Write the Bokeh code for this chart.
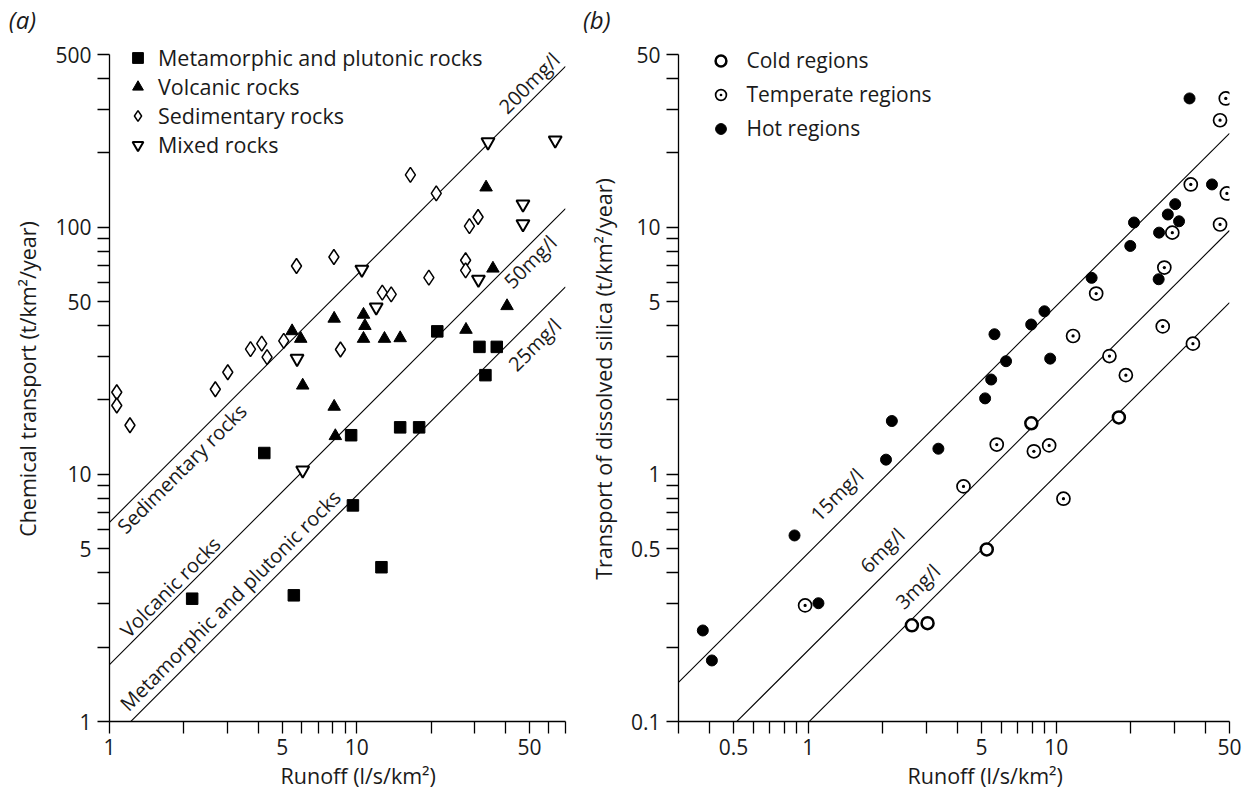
import math
from bokeh.plotting import figure
from bokeh.models import (FixedTicker, Legend, LegendItem, Title, Range1d, NumeralTickFormatter)
from bokeh.layouts import row
from bokeh.embed import file_html
from bokeh.resources import INLINE
from bokeh.core.properties import value

FONT = "Open Sans"
INK = "#1a1a1a"

# ---------------- Panel (a) data ----------------
meta_x = [2.16, 4.23, 5.57, 9.5, 9.66, 12.6, 15.0, 17.9, 21.2, 31.4, 33.2, 36.9]
meta_y = [3.14, 12.2, 3.24, 14.4, 7.49, 4.21, 15.5, 15.5, 37.9, 32.8, 25.2, 32.8]

volc_x = [5.48, 5.94, 6.05, 8.11, 8.11, 8.2, 10.66, 10.8, 10.66, 12.96, 15.0, 27.7, 33.4, 35.6, 40.6]
volc_y = [38.0, 35.4, 22.9, 42.7, 18.8, 14.3, 44.3, 39.9, 35.4, 35.4, 35.6, 38.5, 145, 68.1, 48.0]

sed_x = [1.07, 1.07, 1.21, 2.68, 3.01, 3.72, 4.13, 4.34, 5.07, 5.71, 8.09, 8.6,
         12.7, 13.8, 16.5, 19.6, 21.0, 27.6, 27.6, 28.6, 31.0]
sed_y = [21.5, 19.0, 15.8, 22.1, 25.9, 32.1, 33.8, 29.8, 34.7, 69.7, 75.8, 32.0,
         54.4, 53.5, 163, 62.5, 137, 73.5, 66.9, 101, 110]

mix_x = [5.74, 6.05, 10.5, 12.0, 31.1, 34.0, 47.1, 47.1, 63.6]
mix_y = [29.4, 10.4, 67.4, 47.5, 61.4, 221, 124, 103, 225]

# constant-concentration lines (transport at runoff = 1)
conc_a_labels = ["200mg/l", "50mg/l", "25mg/l"]
conc_a_coef = [6.4, 1.7, 0.82]
runoff_a_ends = [1, 70]
conc_a_label_x = [49.9, 50.4, 52.5]
conc_a_label_y = [383, 72.5, 33.5]

rock_labels = ["Sedimentary rocks", "Volcanic rocks", "Metamorphic and plutonic rocks"]
rock_label_x = [1.962, 1.761, 3.08]
rock_label_y = [10.55, 3.50, 3.09]

a_xticks = [1, 5, 10, 50]
a_xminor = [2, 3, 4, 6, 7, 8, 9, 20, 30, 40, 60, 70]
a_yticks = [1, 5, 10, 50, 100, 500]
a_yminor = [2, 3, 4, 6, 7, 8, 9, 20, 30, 40, 60, 70, 80, 90, 200, 300, 400]

# ---------------- Panel (b) data ----------------
hot_x = [0.376, 0.409, 0.881, 1.10, 2.06, 2.175, 3.35, 5.17, 5.47, 5.64, 6.28, 7.93,
         8.97, 9.46, 13.9, 19.9, 20.6, 25.9, 26.0, 28.2, 30.2, 31.3, 34.5, 42.5]
hot_y = [0.2335, 0.1766, 0.566, 0.301, 1.147, 1.644, 1.27, 2.03, 2.42, 3.69, 2.87, 4.04,
         4.57, 2.94, 6.24, 8.40, 10.45, 6.16, 9.51, 11.26, 12.4, 10.57, 33.2, 14.9]

temp_x = [0.972, 4.23, 5.76, 8.13, 9.37, 10.7, 11.7, 14.5, 16.4, 19.1, 26.9, 27.3,
          29.4, 34.9, 35.6, 45.8, 45.8, 48.3, 48.8]
temp_y = [0.295, 0.894, 1.32, 1.24, 1.31, 0.797, 3.63, 5.39, 3.01, 2.52, 3.97, 6.87,
          9.51, 14.9, 3.38, 27.1, 10.26, 33.2, 13.7]

cold_x = [2.62, 3.03, 5.25, 7.94, 17.9]
cold_y = [0.245, 0.25, 0.497, 1.61, 1.70]

conc_b_labels = ["15mg/l", "6mg/l", "3mg/l"]
conc_b_coef = [0.48, 0.194, 0.099]
runoff_b_ends = [0.3, 50]
conc_b_label_x = [1.305, 1.988, 2.764]
conc_b_label_y = [0.828, 0.492, 0.352]

b_xticks = [0.5, 1, 5, 10, 50]
b_xminor = [0.3, 0.4, 0.6, 0.7, 0.8, 0.9, 2, 3, 4, 6, 7, 8, 9, 20, 30, 40]
b_yticks = [0.1, 0.5, 1, 5, 10, 50]
b_yminor = [0.2, 0.3, 0.4, 0.6, 0.7, 0.8, 0.9, 2, 3, 4, 6, 7, 8, 9, 20, 30, 40]

x_title = "Runoff (l/s/km\u00b2)"
a_ytitle = "Chemical transport (t/km\u00b2/year)"
b_ytitle = "Transport of dissolved silica (t/km\u00b2/year)"

# ---------------- layout geometry ----------------
H = 800
TOP = 36          # frame top
BOTTOM = 79       # space under the frame
AXIS_TOP_PX = 54  # where the top axis value sits
frame_h = H - TOP - BOTTOM
axis_h = frame_h - (AXIS_TOP_PX - TOP)


def top_of_range(lo, hi):
    dec = math.log10(hi / lo)
    return lo * 10 ** (dec * frame_h / axis_h)


def make_fig(width, xr, yr, bl, br, xt, xm, yt, ym, ytitle, tag, tag_offset, xt_offset):
    p = figure(width=width, height=H, x_axis_type="log", y_axis_type="log",
               x_range=Range1d(*xr), y_range=Range1d(yr[0], top_of_range(*yr)),
               output_backend="svg", toolbar_location=None,
               min_border_left=bl, min_border_right=br,
               min_border_top=TOP, min_border_bottom=BOTTOM)
    p.outline_line_color = None
    p.grid.visible = False
    p.background_fill_color = "white"
    p.border_fill_color = "white"
    p.xaxis.ticker = FixedTicker(ticks=xt, minor_ticks=xm)
    p.yaxis.ticker = FixedTicker(ticks=yt, minor_ticks=ym)
    p.yaxis.bounds = (yr[0], yr[1])
    for ax in (p.xaxis[0], p.yaxis[0]):
        ax.formatter = NumeralTickFormatter(format="0.[0]")
        ax.axis_line_color = "black"
        ax.axis_line_width = 1.3
        ax.major_tick_line_color = "black"
        ax.minor_tick_line_color = "black"
        ax.major_tick_line_width = 1.3
        ax.minor_tick_line_width = 1.3
        ax.major_tick_in = 0
        ax.major_tick_out = 12
        ax.minor_tick_in = 0
        ax.minor_tick_out = 12
        ax.major_label_text_font = FONT
        ax.major_label_text_font_size = "21px"
        ax.major_label_text_color = INK
    p.xaxis.major_label_standoff = 5
    p.yaxis.major_label_standoff = 6
    p.yaxis.axis_label = ytitle
    p.yaxis.axis_label_text_font = FONT
    p.yaxis.axis_label_text_font_size = "21.5px"
    p.yaxis.axis_label_text_font_style = "normal"
    p.yaxis.axis_label_text_color = INK
    p.yaxis.axis_label_standoff = 10

    p.add_layout(Title(text=tag, align="left", offset=tag_offset, standoff=0,
                       vertical_align="middle", text_font=FONT, text_font_size="24px",
                       text_font_style="italic", text_color=INK), "above")
    p.add_layout(Title(text=x_title, align="left", offset=xt_offset, standoff=6,
                       vertical_align="top", text_font=FONT, text_font_size="21.5px",
                       text_font_style="normal", text_color=INK), "below")
    return p


def rotated(p, xs, ys, texts):
    p.text(x=xs, y=ys, text=texts, angle=45, angle_units="deg",
           text_align="center", text_baseline="middle", text_font=value(FONT),
           text_font_size="20px", text_color=INK)


# ---------------- panel (a) ----------------
pa = make_fig(578, (1, 70), (1, 500), 109, 13, a_xticks, a_xminor, a_yticks, a_yminor,
              a_ytitle, "(a)", -100.7, 171)

for k in conc_a_coef:
    pa.line(runoff_a_ends, [k * v for v in runoff_a_ends], line_color="black", line_width=1.1)

r_meta = pa.scatter(meta_x, meta_y, marker="square", size=11.5, fill_color="black", line_color="black")
r_volc = pa.scatter(volc_x, volc_y, marker="triangle", size=12.5, fill_color="black", line_color="black")
r_sed = pa.scatter(sed_x, sed_y, marker="diamond", size=15, fill_color="white",
                   line_color="black", line_width=1.5)
r_mix = pa.scatter(mix_x, mix_y, marker="inverted_triangle", size=13, fill_color="white",
                   line_color="black", line_width=2.0)

rotated(pa, conc_a_label_x, conc_a_label_y, conc_a_labels)
rotated(pa, rock_label_x, rock_label_y, rock_labels)

leg_a = Legend(items=[LegendItem(label="Metamorphic and plutonic rocks", renderers=[r_meta]),
                      LegendItem(label="Volcanic rocks", renderers=[r_volc]),
                      LegendItem(label="Sedimentary rocks", renderers=[r_sed]),
                      LegendItem(label="Mixed rocks", renderers=[r_mix])],
               location=(15, 562.5), orientation="vertical",
               glyph_width=27, glyph_height=27, spacing=-1, padding=0, margin=0,
               label_standoff=7, label_height=20,
               label_text_font=FONT, label_text_font_size="21.5px", label_text_color=INK,
               border_line_color=None, background_fill_alpha=0)
pa.add_layout(leg_a)

# ---------------- panel (b) ----------------
pb = make_fig(666, (0.3, 50), (0.1, 50), 100, 15, b_xticks, b_xminor, b_yticks, b_yminor,
              b_ytitle, "(b)", -95.5, 229)

for k in conc_b_coef:
    pb.line(runoff_b_ends, [k * v for v in runoff_b_ends], line_color="black", line_width=1.1)

r_cold = pb.scatter(cold_x, cold_y, marker="circle", size=12, fill_color="white",
                    line_color="black", line_width=2.5)
r_temp = pb.scatter(temp_x, temp_y, marker="circle_dot", size=13, fill_color="white",
                    line_color="black", line_width=1.7)
r_hot = pb.scatter(hot_x, hot_y, marker="circle", size=11, fill_color="black", line_color="black")

rotated(pb, conc_b_label_x, conc_b_label_y, conc_b_labels)

leg_b = Legend(items=[LegendItem(label="Cold regions", renderers=[r_cold]),
                      LegendItem(label="Temperate regions", renderers=[r_temp]),
                      LegendItem(label="Hot regions", renderers=[r_hot])],
               location=(28.5, 579), orientation="vertical",
               glyph_width=27, glyph_height=27, spacing=6, padding=0, margin=0,
               label_standoff=13, label_height=20,
               label_text_font=FONT, label_text_font_size="21px", label_text_color=INK,
               border_line_color=None, background_fill_alpha=0)
pb.add_layout(leg_b)

layout = row(pa, pb)
open("out.html", "w").write(file_html(layout, INLINE))
